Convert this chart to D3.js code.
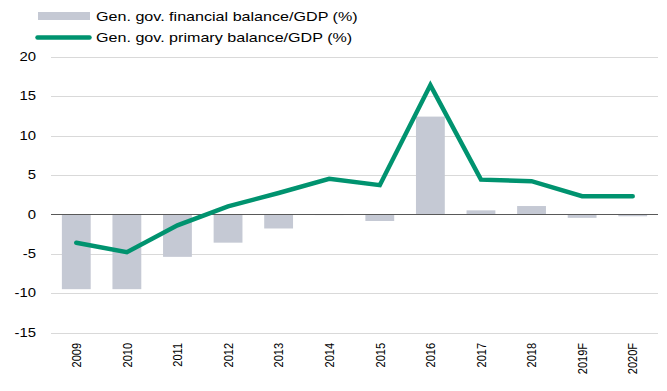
<!DOCTYPE html>
<html>
<head>
<meta charset="utf-8">
<script src="https://cdn.jsdelivr.net/npm/d3@7"></script>
<style>
  html, body { margin: 0; padding: 0; background: #fff; }
  svg { display: block; font-family: "Liberation Sans", Arial, sans-serif; }
</style>
</head>
<body>
<svg id="chart" width="667" height="391"></svg>
<script>
// Fiscal balances by year (% of GDP)
const years = ["2009", "2010", "2011", "2012", "2013", "2014", "2015", "2016", "2017", "2018", "2019F", "2020F"];
const financialBalance = [-9.5, -9.5, -5.4, -3.6, -1.8, -0.1, -0.85, 12.4, 0.5, 1.05, -0.45, -0.25];
const primaryBalance = [-3.6, -4.8, -1.4, 1.0, 2.7, 4.5, 3.7, 16.4, 4.4, 4.2, 2.3, 2.3];
const yTicks = [-15, -10, -5, 0, 5, 10, 15, 20];
const seriesNames = ["Gen. gov. financial balance/GDP (%)", "Gen. gov. primary balance/GDP (%)"];

const barColor = "#C5C9D4";
const lineColor = "#00936F";
// Text is drawn slightly widened horizontally
const textStretch = 1.24;

const svg = d3.select("#chart");
const margin = { left: 51, right: 9, top: 56.7, bottom: 58.5 };
const W = 667, H = 391;

const x = d3.scaleBand().domain(years).range([margin.left, W - margin.right]).paddingInner(0.43).paddingOuter(0.215);
const y = d3.scaleLinear().domain([-15, 20]).range([H - margin.bottom, margin.top]);

// Horizontal gridlines
svg.append("g").selectAll("line").data(yTicks.filter(t => t !== 0)).join("line")
  .attr("x1", margin.left).attr("x2", W - margin.right)
  .attr("y1", d => Math.round(y(d)) + 0.5).attr("y2", d => Math.round(y(d)) + 0.5)
  .attr("stroke", "#D9D9D9").attr("stroke-width", 1);

// Y axis tick labels
svg.append("g").selectAll("text").data(yTicks).join("text")
  .attr("transform", d => `translate(36,${y(d)}) scale(${textStretch},1)`)
  .attr("dy", "0.35em")
  .attr("text-anchor", "end")
  .attr("font-size", 12)
  .attr("fill", "#000")
  .text(d => d);

// Bars: financial balance
svg.append("g").selectAll("rect").data(financialBalance).join("rect")
  .attr("x", (d, i) => x(years[i]))
  .attr("width", x.bandwidth())
  .attr("y", d => y(Math.max(0, d)))
  .attr("height", d => Math.abs(y(d) - y(0)))
  .attr("fill", barColor);

// Zero line
svg.append("line")
  .attr("x1", margin.left).attr("x2", W - margin.right)
  .attr("y1", Math.round(y(0)) + 0.5).attr("y2", Math.round(y(0)) + 0.5)
  .attr("stroke", "#595959").attr("stroke-width", 1);

// Line: primary balance
const line = d3.line()
  .x((d, i) => x(years[i]) + x.bandwidth() / 2)
  .y(d => y(d));
svg.append("path")
  .datum(primaryBalance)
  .attr("d", line)
  .attr("fill", "none")
  .attr("stroke", lineColor)
  .attr("stroke-width", 4.5)
  .attr("stroke-linejoin", "miter")
  .attr("stroke-linecap", "round");

// X axis labels, rotated
svg.append("g").selectAll("text").data(years).join("text")
  .attr("transform", d => `translate(${x(d) + x.bandwidth() / 2},343) scale(${textStretch},1) rotate(-90)`)
  .attr("dy", "0.35em")
  .attr("text-anchor", "end")
  .attr("font-size", 11)
  .attr("fill", "#000")
  .text(d => d);

// Legend
const legend = svg.append("g");
legend.append("rect")
  .attr("x", 38).attr("y", 12).attr("width", 52).attr("height", 8)
  .attr("fill", barColor);
legend.append("text")
  .attr("transform", `translate(96,16) scale(${textStretch},1)`)
  .attr("dy", "0.35em")
  .attr("font-size", 13).attr("fill", "#000")
  .text(seriesNames[0]);
legend.append("line")
  .attr("x1", 37.5).attr("x2", 89.5).attr("y1", 37.5).attr("y2", 37.5)
  .attr("stroke", lineColor).attr("stroke-width", 4.5).attr("stroke-linecap", "round");
legend.append("text")
  .attr("transform", `translate(96,37) scale(${textStretch},1)`)
  .attr("dy", "0.35em")
  .attr("font-size", 13).attr("fill", "#000")
  .text(seriesNames[1]);
</script>
</body>
</html>
